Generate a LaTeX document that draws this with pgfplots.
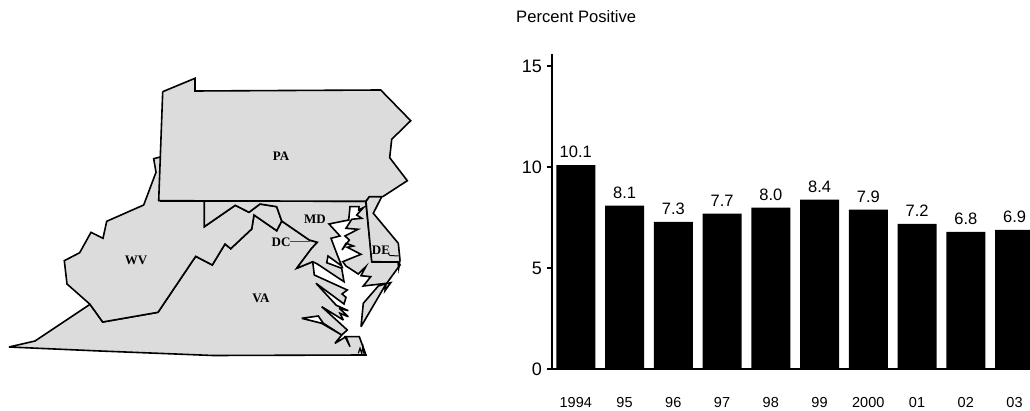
\documentclass[border=0pt]{standalone}
\usepackage{fontspec}
\setmainfont{Liberation Sans}
\newfontfamily\serifb[BoldFont={Liberation Serif Bold}]{Liberation Serif}
\usepackage{pgfplots}
\pgfplotsset{compat=1.18}
\definecolor{land}{HTML}{DCDCDC}
\begin{document}
\begin{tikzpicture}[x=1pt,y=1pt]
\useasboundingbox (0,0) rectangle (1030,411);
\begin{axis}[at={(0pt,0pt)},anchor=south west,scale only axis,width=1030pt,height=411pt,
  xmin=0,xmax=1030,ymin=0,ymax=411,y dir=reverse,hide axis,clip=false]
% Virginia
\addplot[draw=black,fill=land,line width=1.6pt,line join=miter,miter limit=3] coordinates {
(9,347)(35,341)(90,304.3)(102.7,322)(158,312.3)(195.7,256.3)(212.3,265)(225,244)(230.7,248.7)(251.7,229)(254,215)(276.7,230.7)(281.7,221)
(309.3,240)(317.3,242.3)(311.7,248.3)(296.7,268.3)(312.7,261.7)(314.3,275)(347.3,290)(342,294)(346,297.3)(344,304)(316,283.3)(336.3,305.3)
(348.3,310.7)(339.3,308.3)(348.3,316.7)(340,313.3)(343.3,320)(321.7,306.7)(347.3,330)(341.7,335)(323.3,323.3)(318.3,316)(301.7,318.3)(321.7,323.3)
(341.7,335)(335,343.3)(346,336.7)(350,346.7)(345,336.7)(359.3,336.7)(366,355)(213,355.5)(100,351)(9,347)};
% Virginia eastern shore
\addplot[draw=black,fill=land,line width=1.6pt] coordinates {
(361,326.7)(363.3,303.3)(378.3,286)(385,284)(390.7,282.7)(385,290.7)(386,284)(361,326.7)};
\addplot[draw=black,line width=1.2pt] coordinates {(358.3,353.3)(360,348.3)(361.7,353.3)(363,347)(364,354)};
% West Virginia
\addplot[draw=black,fill=land,line width=1.6pt] coordinates {
(161.3,156.7)(153.7,158.7)(156,172.3)(143.7,205)(106.7,221.3)(103,238.3)(91,232.3)(79.7,252.7)(64.3,260.7)(67,284)(90,304.3)(102.7,322)(158,312.3)
(195.7,256.3)(212.3,265)(225,244)(230.7,248.7)(251.7,229)(254,215)(276.7,230.7)(281.7,221)(276.7,206.7)(260,204)(249,212.3)(235.3,205.3)(204.3,226.7)(204.3,201)(161,201)(161.3,156.7)};
% Maryland
\addplot[draw=black,fill=land,line width=1.6pt] coordinates {
(204.3,201)(365.7,201.3)(372,262)(398.3,262)(400,265)(386.7,283.3)(363.3,286)(370.7,276.7)(361,275.7)(365.7,266.7)(358.3,274)(346,266)(342.7,261.7)(361,254.3)
(347.3,247.3)(353.3,246)(346,243.3)(342,250)(349.3,240)(345,236)(358,229.3)(346,228.3)(351.7,219.3)(361.7,218.3)(356.7,215)(363.3,207.7)
(358.7,210)(359,206.7)(350,206.7)(348.7,220)(329,224)(340,236)(331,238.3)(337.3,255)(341.7,266)(328,256)(326.7,262.7)(341.7,268.3)(344,281.7)(317.3,264)
(312.7,261.7)(296.7,268.3)(311.7,248.3)(317.3,242.3)(309.3,240)(281.7,221)(276.7,206.7)(260,204)(249,212.3)(235.3,205.3)(204.3,226.7)(204.3,201)};
% Delaware
\addplot[draw=black,fill=land,line width=1.6pt] coordinates {
(366,201.3)(369.3,196.7)(381.7,196.7)(373.3,213.3)(398.3,243.3)(400,260)(398.7,268)(398,262)(371.7,261.7)(366,201.3)};
% Pennsylvania
\addplot[draw=black,fill=land,line width=1.6pt,line join=miter] coordinates {
(162.7,91.7)(195,78.3)(195,91)(380.7,90)(410.7,120.7)(391.7,139.3)(389.7,157.7)(407.3,180.7)(382.7,196.7)(369.3,196.7)(365.7,201.3)(158.7,200.7)(162.7,91.7)};
% leaders
\addplot[draw=black!70,line width=0.8pt] coordinates {(290,241.5)(310,241.5)};
\addplot[draw=black,line width=1pt] coordinates {(388,253.5)(390,255.5)(398.5,256)};
\node[font=\serifb\bfseries\fontsize{13}{13}\selectfont] at (axis cs:281,156) {PA};
\node[font=\serifb\bfseries\fontsize{13}{13}\selectfont] at (axis cs:136,260) {WV};
\node[font=\serifb\bfseries\fontsize{13}{13}\selectfont] at (axis cs:261,298) {VA};
\node[font=\serifb\bfseries\fontsize{13}{13}\selectfont] at (axis cs:315,219) {MD};
\node[font=\serifb\bfseries\fontsize{13}{13}\selectfont] at (axis cs:281,242) {DC};
\node[font=\serifb\bfseries\fontsize{13}{13}\selectfont] at (axis cs:381,250) {DE};
\node[anchor=west,inner sep=0pt,font=\fontsize{16.6}{16.6}\selectfont] at (axis cs:516,17) {Percent Positive};
\end{axis}
\begin{axis}[at={(552pt,41.7pt)},anchor=south west,scale only axis,width=478pt,height=315.3pt,
  xmin=-0.488,xmax=9.317,ymin=0,ymax=15.6,
  axis x line=bottom,axis y line=left,axis line style={line width=2pt,-},
  ytick={0,5,10,15},xtick={0,...,9},
  xticklabels={1994,95,96,97,98,99,2000,01,02,03},
  x tick style={draw=none},
  y tick style={line width=2pt,black},
  tick align=outside,major tick length=5.5pt,
  /pgf/number format/assume math mode=true,
  x tick label style={font=\fontsize{14.5}{14.5}\selectfont,yshift=-19pt},
  y tick label style={font=\fontsize{18}{18}\selectfont,xshift=-1pt},
  ]
\addplot[ybar,bar width=39pt,fill=black,draw=none,
  nodes near coords,
  nodes near coords style={font=\fontsize{16.5}{16.5}\selectfont,anchor=south,inner sep=0pt,yshift=7pt,
    /pgf/number format/fixed,/pgf/number format/fixed zerofill,/pgf/number format/precision=1,/pgf/number format/assume math mode=true}]
 coordinates {(0,10.1)(1,8.1)(2,7.3)(3,7.7)(4,8.0)(5,8.4)(6,7.9)(7,7.2)(8,6.8)(9,6.9)};
\end{axis}
\end{tikzpicture}
\end{document}
